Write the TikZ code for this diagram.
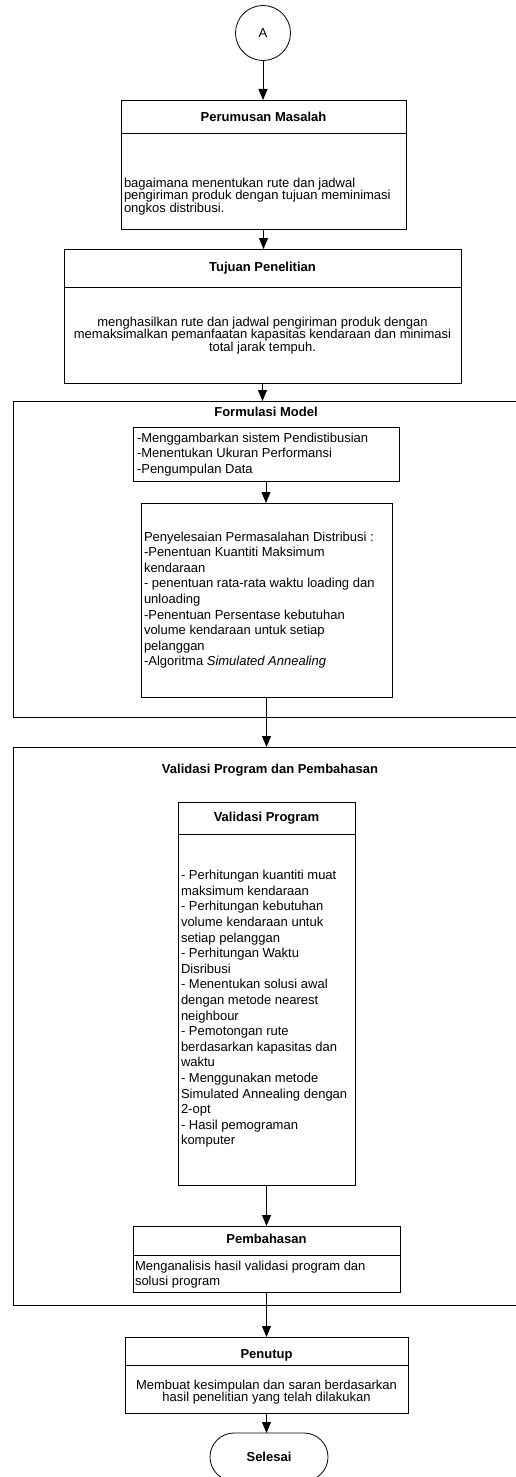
\documentclass[tikz,border=0pt]{standalone}
\usepackage{fontspec}
\setmainfont{Liberation Sans}
\usetikzlibrary{arrows.meta}
\newcommand\firststrut{\rule{0pt}{10pt}}
\newcommand\wideface{\fontsize{13}{15.6}\selectfont\lineskiplimit -20pt\relax}
\newcommand\tightface{\fontsize{13}{12.5}\selectfont\lineskiplimit -20pt\relax}
\begin{document}
\begin{tikzpicture}[x=1pt,y=-1pt,
  every node/.style={inner sep=0pt, outer sep=0pt},
  boxline/.style={draw=black, line width=0.8pt},
  ttl/.style={font=\fontsize{13}{15.6}\selectfont\bfseries, anchor=base},
  bodyl/.style={font=\wideface, align=left, anchor=north west},
  bodyt/.style={font=\tightface, align=left, anchor=north west},
  bodyc/.style={font=\tightface, align=center, anchor=north},
  arr/.style={line width=0.8pt, -{Triangle[length=11pt,width=9pt]}}
]
\useasboundingbox (0,0) rectangle (515,1477);

% connector A
\node[boxline, circle, minimum size=55pt, font=\fontsize{13}{15.6}\selectfont] (A) at (263,33) {A};

% Perumusan Masalah
\node[boxline, minimum width=285pt, minimum height=129pt, anchor=north west] (pm) at (121,100) {};
\draw[boxline] (pm.west |- 0,133) -- (pm.east |- 0,133);
\node[ttl] (pmt) at (263.5,121.5) {Perumusan Masalah};
\node[bodyt] (pmb) at (124,177) {\firststrut bagaimana menentukan rute dan jadwal\\pengiriman produk dengan tujuan meminimasi\\ongkos distribusi.};

% Tujuan Penelitian
\node[boxline, minimum width=397pt, minimum height=134pt, anchor=north west] (tp) at (64,249) {};
\draw[boxline] (tp.west |- 0,287) -- (tp.east |- 0,287);
\node[ttl] (tpt) at (262.5,271.5) {Tujuan Penelitian};
\node[bodyc] (tpb) at (262.5,316) {\firststrut menghasilkan rute dan jadwal pengiriman produk dengan\\memaksimalkan pemanfaatan kapasitas kendaraan dan minimasi\\total jarak tempuh.};

% Formulasi Model frame
\node[boxline, minimum width=517pt, minimum height=316pt, anchor=north west] (ff) at (13,401) {};
\node[ttl] (fft) at (266,416.5) {Formulasi Model};
\node[boxline, minimum width=266pt, minimum height=54pt, anchor=north west] (f1) at (133,427) {};
\node[bodyl] (f1b) at (137,432) {\firststrut -Menggambarkan sistem Pendistibusian\\-Menentukan Ukuran Performansi\\-Pengumpulan Data};
\node[boxline, minimum width=251pt, minimum height=194pt, anchor=north west] (f2) at (141,503) {};
\node[bodyl] (f2b) at (144,531) {\firststrut Penyelesaian Permasalahan Distribusi :\\-Penentuan Kuantiti Maksimum\\kendaraan\\- penentuan rata-rata waktu loading dan\\unloading\\-Penentuan Persentase kebutuhan\\volume kendaraan untuk setiap\\pelanggan\\-Algoritma \textit{Simulated Annealing}};

% Validasi Program dan Pembahasan frame
\node[boxline, minimum width=517pt, minimum height=558pt, anchor=north west] (vf) at (13,747) {};
\node[ttl] (vft) at (270,773.5) {Validasi Program dan Pembahasan};
\node[boxline, minimum width=177pt, minimum height=383pt, anchor=north west] (vp) at (178,802) {};
\draw[boxline] (vp.west |- 0,834) -- (vp.east |- 0,834);
\node[ttl] (vpt) at (266.5,821.5) {Validasi Program};
\node[bodyl] (vpb) at (181,869.7) {\firststrut - Perhitungan kuantiti muat\\maksimum kendaraan\\- Perhitungan kebutuhan\\volume kendaraan untuk\\setiap pelanggan\\- Perhitungan Waktu\\Disribusi\\- Menentukan solusi awal\\dengan metode nearest\\neighbour\\- Pemotongan rute\\berdasarkan kapasitas dan\\waktu\\- Menggunakan metode\\Simulated Annealing dengan\\2-opt\\- Hasil pemograman\\komputer};
\node[boxline, minimum width=267pt, minimum height=66pt, anchor=north west] (pb) at (133,1226) {};
\draw[boxline] (pb.west |- 0,1255) -- (pb.east |- 0,1255);
\node[ttl] (pbt) at (266.5,1243.5) {Pembahasan};
\node[bodyl] (pbb) at (135,1260) {\firststrut Menganalisis hasil validasi program dan\\solusi program};

% Penutup
\node[boxline, minimum width=283pt, minimum height=76pt, anchor=north west] (pt) at (125,1337) {};
\draw[boxline] (pt.west |- 0,1365) -- (pt.east |- 0,1365);
\node[ttl] (ptt) at (266.5,1358.5) {Penutup};
\node[bodyc] (ptb) at (266.5,1379) {\firststrut Membuat kesimpulan dan saran berdasarkan\\hasil penelitian yang telah dilakukan};

% Selesai
\node[boxline, rounded corners=24pt, minimum width=118pt, minimum height=48pt, font=\fontsize{13}{15.6}\selectfont\bfseries] (sel) at (269,1457) {Selesai};

% connectors
\draw[arr] (A.south) -- (A.south |- pm.north);
\draw[arr] (pm.south) -- (pm.south |- tp.north);
\draw[arr] (tp.south) -- (tp.south |- ff.north);
\draw[arr] (f1.south) -- (f1.south |- f2.north);
\draw[arr] (f2.south) -- (f2.south |- vf.north);
\draw[arr] (vp.south) -- (vp.south |- pb.north);
\draw[arr] (pb.south) -- (pb.south |- pt.north);
\draw[arr] (pt.south) -- (pt.south |- sel.north);
\end{tikzpicture}
\end{document}
